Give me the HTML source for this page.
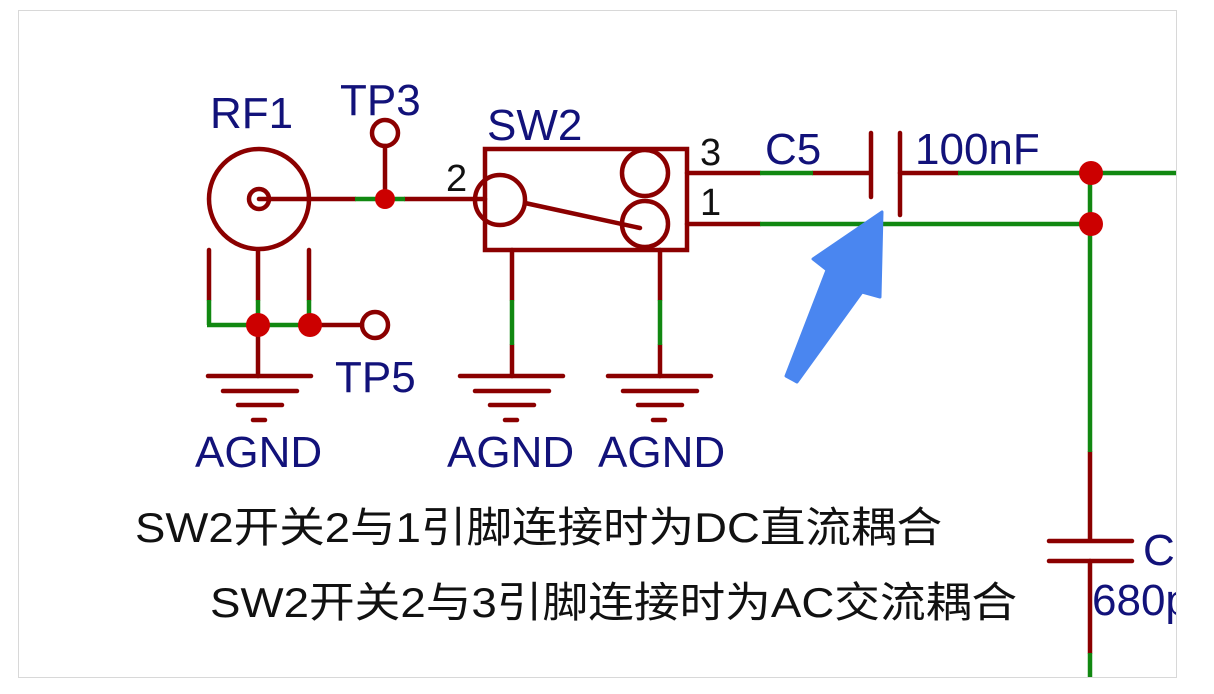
<!DOCTYPE html>
<html><head><meta charset="utf-8"><style>
html,body{margin:0;padding:0;background:#fff;}
svg{display:block;}
text{font-family:"Liberation Sans","Noto Sans CJK SC",sans-serif;}
</style></head><body>
<svg width="1214" height="694" viewBox="0 0 1214 694" xmlns="http://www.w3.org/2000/svg">
<rect x="18.5" y="10.5" width="1158" height="667" fill="#fff" stroke="#d8d8d8" stroke-width="1"/>
<g stroke="#8b0000" stroke-width="4.5" fill="none" stroke-linecap="round">
  <circle cx="259" cy="199" r="50"/>
  <circle cx="259" cy="199" r="10"/>
  <line x1="259" y1="199" x2="355" y2="199"/>
  <line x1="405" y1="199" x2="485" y2="199"/>
  <line x1="385" y1="146" x2="385" y2="199"/>
  <circle cx="385" cy="133" r="13"/>
  <line x1="209" y1="250" x2="209" y2="300"/>
  <line x1="309" y1="250" x2="309" y2="300"/>
  <line x1="258" y1="250" x2="258" y2="300"/>
  <line x1="258" y1="325" x2="258" y2="376"/>
  <line x1="310" y1="325" x2="362" y2="325"/>
  <circle cx="375" cy="325" r="13"/>
  <rect x="485" y="149" width="202" height="101"/>
  <circle cx="500" cy="200" r="25"/>
  <circle cx="645" cy="173" r="23"/>
  <circle cx="645" cy="224" r="23"/>
  <line x1="525" y1="203" x2="640" y2="228"/>
  <line x1="687" y1="173" x2="760" y2="173"/>
  <line x1="687" y1="224" x2="760" y2="224"/>
  <line x1="512" y1="250" x2="512" y2="300"/>
  <line x1="512" y1="345" x2="512" y2="376"/>
  <line x1="660" y1="250" x2="660" y2="300"/>
  <line x1="660" y1="345" x2="660" y2="376"/>
  <line x1="813" y1="173" x2="870" y2="173"/>
  <line x1="871" y1="133" x2="871" y2="197"/>
  <line x1="900" y1="133" x2="900" y2="215"/>
  <line x1="900" y1="173" x2="958" y2="173"/>
  <line x1="1090" y1="452" x2="1090" y2="540"/>
  <line x1="1049" y1="541" x2="1132" y2="541"/>
  <line x1="1049" y1="561" x2="1132" y2="561"/>
  <line x1="1090" y1="561" x2="1090" y2="653"/>
  <g>
    <line x1="208" y1="376" x2="311" y2="376"/><line x1="223" y1="391" x2="297" y2="391"/><line x1="238" y1="405" x2="282" y2="405"/><line x1="253" y1="420" x2="265" y2="420"/>
  </g>
  <g>
    <line x1="460" y1="376" x2="563" y2="376"/><line x1="475" y1="391" x2="549" y2="391"/><line x1="490" y1="405" x2="534" y2="405"/><line x1="505" y1="420" x2="517" y2="420"/>
  </g>
  <g>
    <line x1="608" y1="376" x2="711" y2="376"/><line x1="623" y1="391" x2="697" y2="391"/><line x1="638" y1="405" x2="682" y2="405"/><line x1="653" y1="420" x2="665" y2="420"/>
  </g>
</g>
<g stroke="#118811" stroke-width="4.5" fill="none">
  <line x1="355" y1="199" x2="405" y2="199"/>
  <line x1="209" y1="300" x2="209" y2="325"/>
  <line x1="309" y1="300" x2="309" y2="325"/>
  <line x1="258" y1="300" x2="258" y2="325"/>
  <line x1="207" y1="325" x2="310" y2="325"/>
  <line x1="512" y1="300" x2="512" y2="345"/>
  <line x1="660" y1="300" x2="660" y2="345"/>
  <line x1="760" y1="173" x2="813" y2="173"/>
  <line x1="760" y1="224" x2="1090" y2="224"/>
  <line x1="958" y1="173" x2="1176" y2="173"/>
  <line x1="1090" y1="173" x2="1090" y2="452"/>
  <line x1="1090" y1="653" x2="1090" y2="677"/>
</g>
<g fill="#cc0000">
  <circle cx="385" cy="199" r="10"/>
  <circle cx="258" cy="325" r="12"/>
  <circle cx="310" cy="325" r="12"/>
  <circle cx="1091" cy="173" r="12"/>
  <circle cx="1091" cy="224" r="12"/>
</g>
<polygon points="882,212 880,297 862,292 797,382 786,376 827,270 813,259" fill="#4a86f0" stroke="#4a86f0" stroke-width="3" stroke-linejoin="round"/>
<g fill="#12127a" font-size="44">
  <text x="210" y="128">RF1</text>
  <text x="340" y="115">TP3</text>
  <text x="487" y="140">SW2</text>
  <text x="335" y="392">TP5</text>
  <text x="765" y="164">C5</text>
  <text x="915" y="164">100nF</text>
  <text x="1143" y="565">C</text>
  <text x="1092" y="615">680p</text>
  <text x="195" y="467">AGND</text>
  <text x="447" y="467">AGND</text>
  <text x="598" y="467">AGND</text>
</g>
<g fill="#111" font-size="38">
  <text x="446" y="191">2</text>
  <text x="700" y="165">3</text>
  <text x="700" y="215">1</text>
</g>
<g fill="#111" font-size="42">
  <text x="135" y="542" textLength="807" lengthAdjust="spacingAndGlyphs">SW2开关2与1引脚连接时为DC直流耦合</text>
  <text x="210" y="617" textLength="807" lengthAdjust="spacingAndGlyphs">SW2开关2与3引脚连接时为AC交流耦合</text>
</g>
<rect x="1177" y="0" width="37" height="694" fill="#fff"/>
<line x1="1176.5" y1="10" x2="1176.5" y2="678" stroke="#d8d8d8" stroke-width="1"/>
</svg>
</body></html>
